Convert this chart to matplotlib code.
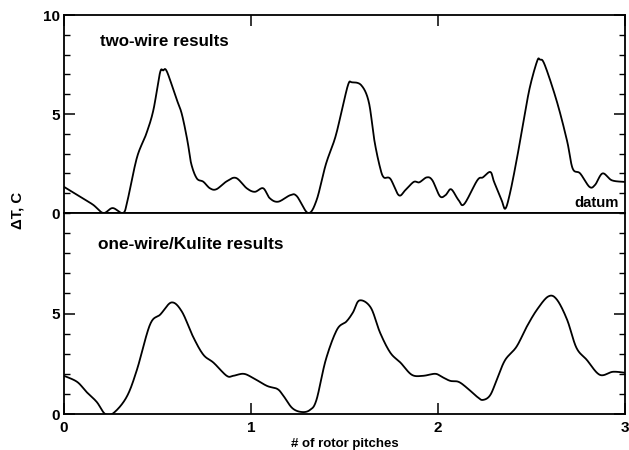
import numpy as np
import matplotlib
matplotlib.use("Agg")
import matplotlib.pyplot as plt
from matplotlib.ticker import MultipleLocator

plt.rcParams['font.family'] = ['Liberation Sans', 'DejaVu Sans']
plt.rcParams['font.weight'] = 'bold'

# two-wire results (top panel)
x_two = [0.0, 0.086, 0.155, 0.21, 0.26, 0.316, 0.34, 0.39, 0.44, 0.478, 0.513, 0.53, 0.55,
         0.60, 0.63, 0.66, 0.68, 0.71, 0.745, 0.78, 0.815, 0.87, 0.92, 0.977, 1.02, 1.065,
         1.10, 1.145, 1.21, 1.245, 1.305, 1.35, 1.40, 1.45, 1.485, 1.52, 1.54, 1.59, 1.63,
         1.66, 1.69, 1.71, 1.745, 1.79, 1.825, 1.87, 1.90, 1.94, 1.97, 2.01, 2.04, 2.07,
         2.11, 2.14, 2.21, 2.24, 2.28, 2.30, 2.34, 2.36, 2.385, 2.42, 2.455, 2.49, 2.53,
         2.545, 2.57, 2.635, 2.69, 2.72, 2.76, 2.81, 2.84, 2.88, 2.93, 3.0]
y_two = [1.32, 0.82, 0.42, 0.0, 0.25, 0.0, 0.65, 2.8, 4.0, 5.2, 7.07, 7.2, 7.15,
         5.8, 5.0, 3.65, 2.5, 1.75, 1.58, 1.25, 1.2, 1.6, 1.77, 1.25, 1.07, 1.25,
         0.75, 0.57, 0.9, 0.85, 0.0, 0.63, 2.45, 3.8, 5.15, 6.5, 6.6, 6.45, 5.6,
         3.65, 2.3, 1.8, 1.73, 0.9, 1.15, 1.57, 1.55, 1.8, 1.65, 0.85, 0.9, 1.2,
         0.65, 0.45, 1.65, 1.8, 2.07, 1.57, 0.65, 0.22, 1.0, 2.65, 4.5, 6.3, 7.67,
         7.75, 7.5, 5.65, 3.65, 2.25, 2.0, 1.32, 1.42, 2.0, 1.65, 1.57]

# one-wire/Kulite results (bottom panel)
x_one = [0.0, 0.07, 0.12, 0.175, 0.22, 0.265, 0.335, 0.39, 0.46, 0.515, 0.575, 0.63, 0.69,
         0.745, 0.80, 0.87, 0.905, 0.96, 1.01, 1.085, 1.14, 1.17, 1.22, 1.27, 1.315, 1.35,
         1.40, 1.46, 1.51, 1.545, 1.58, 1.64, 1.69, 1.745, 1.80, 1.86, 1.92, 1.985, 2.02,
         2.065, 2.11, 2.155, 2.21, 2.24, 2.28, 2.32, 2.36, 2.42, 2.475, 2.53, 2.59, 2.635,
         2.69, 2.74, 2.795, 2.865, 2.935, 3.0]
y_one = [1.9, 1.6, 1.1, 0.6, 0.0, 0.05, 0.85, 2.2, 4.45, 4.95, 5.55, 5.1, 3.85,
         2.95, 2.55, 1.9, 1.9, 2.0, 1.8, 1.4, 1.25, 0.95, 0.3, 0.1, 0.2, 0.7,
         2.7, 4.2, 4.6, 5.05, 5.65, 5.3, 4.05, 3.05, 2.55, 1.95, 1.9, 2.0, 1.85,
         1.65, 1.6, 1.3, 0.85, 0.7, 0.95, 1.85, 2.7, 3.35, 4.35, 5.2, 5.85, 5.7,
         4.7, 3.3, 2.7, 1.95, 2.1, 2.05]

xticks = [0, 1, 2, 3]
xtick_labels = ['0', '1', '2', '3']
top_yticks = [0, 5, 10]
bot_yticks = [0, 5]

W, H = 629, 450
fig = plt.figure(figsize=(W / 100, H / 100), dpi=100)
left = 64 / W
width = (625 - 64) / W
ax_top = fig.add_axes([left, 1 - 213 / H, width, (213 - 15) / H])
ax_bot = fig.add_axes([left, 1 - 414 / H, width, (414 - 213) / H])

def smooth(x, y):
    x = np.asarray(x, float)
    y = np.asarray(y, float)
    tt = np.linspace(0, len(x) - 1, 1500)
    def cr(p):
        p = np.concatenate([[p[0]], p, [p[-1]]])
        out = []
        for v in tt:
            i = int(min(np.floor(v), len(x) - 2))
            u = v - i
            p0, p1, p2, p3 = p[i], p[i + 1], p[i + 2], p[i + 3]
            out.append(0.5 * ((2 * p1) + (-p0 + p2) * u + (2 * p0 - 5 * p1 + 4 * p2 - p3) * u ** 2
                              + (-p0 + 3 * p1 - 3 * p2 + p3) * u ** 3))
        return np.array(out)
    return cr(x), cr(y)

for ax in (ax_top, ax_bot):
    ax.set_xlim(0, 3)
    ax.set_ylim(0, 10)
    for s in ax.spines.values():
        s.set_linewidth(1.3)
    ax.yaxis.set_minor_locator(MultipleLocator(1))
    ax.tick_params(axis='y', which='major', direction='in', length=8, width=1.1,
                   left=True, right=True, labelsize=11, pad=3)
    ax.tick_params(axis='y', which='minor', direction='in', length=4, width=1.0,
                   left=True, right=True)
    ax.set_xticks(xticks)

xs, ys = smooth(x_two, y_two)
ax_top.plot(xs, ys, color='black', lw=1.3)
xs, ys = smooth(x_one, y_one)
ax_bot.plot(xs, ys, color='black', lw=1.3)

ax_top.set_yticks(top_yticks)
ax_top.set_yticklabels([str(v) for v in top_yticks], fontweight='bold')
ax_top.tick_params(axis='x', which='major', direction='in', length=8, width=1.1,
                   top=True, bottom=False, labelbottom=False)
ax_bot.set_yticks(bot_yticks)
ax_bot.set_yticklabels([str(v) for v in bot_yticks], fontweight='bold')
ax_bot.tick_params(axis='x', which='major', direction='in', length=8, width=1.1,
                   top=False, bottom=True, labelsize=11, pad=5)
ax_bot.set_xticklabels(xtick_labels, fontweight='bold')

ax_top.text(0.19, 8.64, 'two-wire results', fontsize=12.2, fontweight='bold', va='center', ha='left')
ax_top.text(2.965, 0.5, 'datum', fontsize=10.7, fontweight='bold', va='center', ha='right')
ax_bot.text(0.18, 8.45, 'one-wire/Kulite results', fontsize=12.4, fontweight='bold', va='center', ha='left')

ax_bot.set_xlabel('# of rotor pitches', fontsize=9.5, fontweight='bold', labelpad=2)
fig.text(17 / W, 1 - 210 / H, 'ΔT, C', rotation=90, fontsize=10.7, fontweight='bold',
         ha='center', va='center')

fig.savefig('out.png', dpi=100)
